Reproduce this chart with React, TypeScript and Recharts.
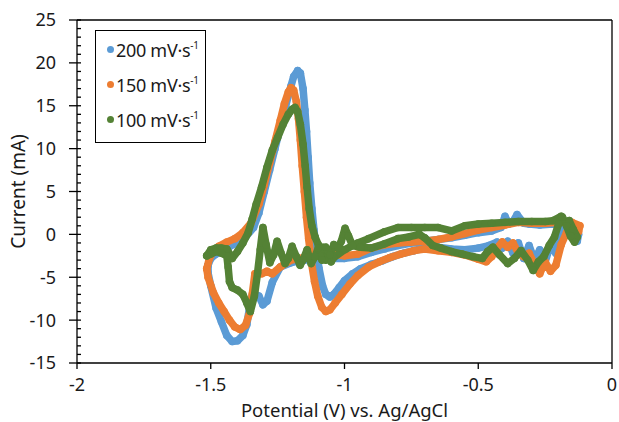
import React from 'react';
import { ScatterChart, Scatter, XAxis, YAxis, ReferenceLine, Legend } from 'recharts';

// cyclic voltammograms, [potential (V), current (mA)] in sweep order
const cv200: [number, number][] = [
  [-1.51, -3.6], [-1.5, -2.8], [-1.48, -2.3], [-1.46, -1.8], [-1.43, -1.4], [-1.4, -1.0], [-1.37, -0.3],
  [-1.34, 0.8], [-1.32, 2.5], [-1.3, 5.0], [-1.28, 7.5], [-1.26, 10.0], [-1.24, 12.5], [-1.22, 15.0],
  [-1.2, 17.3], [-1.19, 18.4], [-1.175, 19.1], [-1.165, 18.8], [-1.155, 17.0], [-1.148, 14.5],
  [-1.142, 12.0], [-1.136, 9.0], [-1.13, 6.0], [-1.122, 3.0], [-1.114, 0.5], [-1.105, -2.0],
  [-1.095, -4.0], [-1.082, -6.0], [-1.07, -7.0], [-1.055, -7.3], [-1.04, -7.0], [-1.02, -6.2],
  [-1.0, -5.4], [-0.97, -4.6], [-0.94, -4.0], [-0.9, -3.5], [-0.86, -3.1], [-0.82, -2.6], [-0.78, -2.2],
  [-0.74, -1.9], [-0.7, -1.6], [-0.65, -1.5], [-0.6, -1.7], [-0.55, -1.8], [-0.5, -1.6], [-0.46, -1.3],
  [-0.43, -0.9], [-0.41, -1.6], [-0.39, -0.8], [-0.37, -2.2], [-0.35, -1.0], [-0.33, -2.8], [-0.31, -1.3],
  [-0.29, -3.0], [-0.27, -1.8], [-0.25, -3.2], [-0.23, -1.2], [-0.21, -2.2], [-0.19, 0.3], [-0.17, 0.8],
  [-0.15, -0.2], [-0.13, -0.8],
  [-0.125, 0.0], [-0.14, 0.8], [-0.18, 1.1], [-0.22, 1.2], [-0.27, 1.1], [-0.31, 1.2], [-0.33, 1.3],
  [-0.355, 2.3], [-0.37, 1.5], [-0.385, 1.2], [-0.4, 2.1], [-0.415, 0.8], [-0.45, 0.4], [-0.5, 0.2],
  [-0.55, -0.1], [-0.6, -0.4], [-0.65, -0.6], [-0.7, -0.8], [-0.75, -1.0], [-0.8, -1.3], [-0.85, -1.7],
  [-0.9, -2.1], [-0.95, -2.6], [-1.0, -2.8], [-1.05, -2.8], [-1.1, -2.9], [-1.15, -3.0], [-1.2, -3.3],
  [-1.24, -3.8], [-1.27, -5.6], [-1.29, -7.8], [-1.305, -8.2], [-1.32, -7.2], [-1.342, -6.8],
  [-1.355, -8.5], [-1.365, -10.5], [-1.38, -11.8], [-1.4, -12.4], [-1.42, -12.5], [-1.44, -11.8],
  [-1.46, -10.2], [-1.48, -8.6], [-1.5, -6.0], [-1.51, -4.5], [-1.51, -3.6],
];

const cv150: [number, number][] = [
  [-1.515, -4.0], [-1.505, -2.8], [-1.49, -1.9], [-1.47, -1.4], [-1.44, -0.9], [-1.41, -0.5],
  [-1.38, 0.2], [-1.35, 1.3], [-1.32, 3.5], [-1.3, 5.8], [-1.28, 8.3], [-1.26, 10.8], [-1.24, 13.3],
  [-1.225, 15.2], [-1.21, 16.6], [-1.2, 17.1], [-1.19, 16.8], [-1.18, 15.5], [-1.172, 13.5],
  [-1.165, 11.0], [-1.158, 8.0], [-1.15, 5.0], [-1.142, 2.0], [-1.134, -0.5], [-1.125, -3.0],
  [-1.112, -5.5], [-1.1, -7.2], [-1.085, -8.5], [-1.07, -9.0], [-1.055, -8.8], [-1.035, -8.0],
  [-1.01, -7.0], [-0.98, -5.8], [-0.95, -4.8], [-0.91, -3.8], [-0.87, -3.2], [-0.83, -2.7],
  [-0.79, -2.3], [-0.74, -1.9], [-0.7, -1.7], [-0.65, -1.9], [-0.6, -2.1], [-0.55, -2.4], [-0.5, -2.9],
  [-0.47, -3.2], [-0.45, -2.6], [-0.43, -1.6], [-0.41, -0.9], [-0.39, -1.5], [-0.37, -1.0],
  [-0.35, -2.2], [-0.33, -2.6], [-0.31, -2.2], [-0.29, -3.5], [-0.27, -4.6], [-0.25, -3.2],
  [-0.23, -4.3], [-0.21, -3.6], [-0.19, -1.2], [-0.17, 0.2], [-0.15, 0.8], [-0.125, 0.3],
  [-0.12, 1.0], [-0.15, 1.4], [-0.2, 1.4], [-0.25, 1.3], [-0.3, 1.3], [-0.35, 1.4], [-0.4, 1.1],
  [-0.45, 0.8], [-0.5, 0.5], [-0.55, 0.1], [-0.6, -0.3], [-0.65, -0.6], [-0.7, -0.8], [-0.75, -0.9],
  [-0.8, -1.0], [-0.85, -1.2], [-0.9, -1.6], [-0.95, -2.3], [-1.0, -2.5], [-1.05, -2.3], [-1.1, -2.5],
  [-1.15, -2.7], [-1.2, -3.0], [-1.24, -3.8], [-1.27, -4.6], [-1.29, -4.3], [-1.31, -4.6],
  [-1.335, -4.6], [-1.345, -7.0], [-1.355, -9.2], [-1.37, -10.6], [-1.39, -11.1], [-1.41, -10.8],
  [-1.43, -10.0], [-1.45, -9.0], [-1.47, -8.0], [-1.49, -6.8], [-1.51, -5.0], [-1.515, -4.0],
];

const cv100: [number, number][] = [
  [-1.515, -2.5], [-1.5, -1.8], [-1.48, -1.6], [-1.46, -1.6], [-1.44, -1.7], [-1.42, -2.8], [-1.4, -2.0],
  [-1.38, -1.0], [-1.36, 0.2], [-1.345, 1.8], [-1.33, 3.5], [-1.31, 5.5], [-1.29, 7.8], [-1.27, 9.8],
  [-1.25, 11.3], [-1.23, 12.8], [-1.21, 14.0], [-1.195, 14.6], [-1.185, 14.8], [-1.175, 14.3],
  [-1.165, 12.8], [-1.155, 10.5], [-1.147, 8.0], [-1.14, 5.5], [-1.132, 3.0], [-1.122, 1.0],
  [-1.11, -0.3], [-1.098, -1.2], [-1.09, -2.5], [-1.08, -1.5], [-1.07, -3.0], [-1.06, -2.0],
  [-1.05, -3.2], [-1.04, -2.7], [-1.0, -1.8], [-0.95, -1.0], [-0.91, -0.5], [-0.85, 0.3], [-0.8, 0.8],
  [-0.75, 0.8], [-0.7, 0.8], [-0.65, 0.8], [-0.6, 0.4], [-0.55, 1.0], [-0.5, 1.2], [-0.45, 1.3],
  [-0.4, 1.4], [-0.35, 1.5], [-0.3, 1.5], [-0.25, 1.5], [-0.22, 1.6], [-0.19, 2.1], [-0.175, 1.4],
  [-0.16, 1.6], [-0.145, 0.6], [-0.13, -0.3],
  [-0.14, -0.9], [-0.155, -0.2], [-0.17, 1.0], [-0.185, 2.0], [-0.2, 1.2], [-0.215, -0.3],
  [-0.235, -1.3], [-0.255, -2.6], [-0.275, -3.2], [-0.295, -4.2], [-0.315, -3.0], [-0.34, -1.9],
  [-0.365, -2.8], [-0.39, -3.4], [-0.42, -2.4], [-0.445, -1.5], [-0.465, -2.0], [-0.485, -2.8],
  [-0.52, -2.6], [-0.56, -2.3], [-0.6, -2.0], [-0.64, -1.6], [-0.67, -1.3], [-0.7, -0.4], [-0.72, 0.0],
  [-0.76, -0.3], [-0.8, -0.5], [-0.85, -1.1], [-0.9, -1.6], [-0.94, -1.5], [-0.97, -1.3],
  [-0.985, -0.2], [-0.998, 0.7], [-1.012, -0.8], [-1.024, -1.6], [-1.04, -1.2], [-1.054, -2.4],
  [-1.07, -1.5], [-1.084, -3.0], [-1.098, -1.6], [-1.11, -2.6], [-1.125, -3.4], [-1.14, -1.8],
  [-1.155, -3.0], [-1.166, -3.6], [-1.18, -2.6], [-1.196, -1.4], [-1.21, -2.8], [-1.222, -3.4],
  [-1.237, -2.2], [-1.252, -0.8], [-1.265, -2.4], [-1.279, -3.3], [-1.293, -1.2], [-1.305, 0.8],
  [-1.315, -1.8], [-1.325, -4.5], [-1.337, -7.2], [-1.352, -9.0], [-1.365, -8.0], [-1.38, -7.0],
  [-1.4, -6.5], [-1.42, -6.2], [-1.43, -5.5], [-1.435, -3.8], [-1.44, -2.5], [-1.46, -2.2],
  [-1.48, -2.0], [-1.5, -2.3], [-1.515, -2.5],
];

const seriesNames = ['200 mV·s', '150 mV·s', '100 mV·s'];
const seriesColors = ['#5B9BD5', '#ED7D31', '#548235'];
const seriesData = [cv200, cv150, cv100];

const xTicks = [-2, -1.5, -1, -0.5, 0];
const yTicks = [-15, -10, -5, 0, 5, 10, 15, 20, 25];
const xMinorTicks = [-2, -1.9, -1.8, -1.7, -1.6, -1.5, -1.4, -1.3, -1.2, -1.1, -1, -0.9, -0.8, -0.7, -0.6, -0.5, -0.4, -0.3, -0.2, -0.1, 0];
const yMinorTicks = Array.from({ length: 41 }, (_, k) => k - 15);

const textColor = '#1a1a1a';
const axisColor = '#000';

const renderLegend = () => (
  <div
    style={{
      width: 111,
      height: 113,
      boxSizing: 'border-box',
      border: '1.5px solid #000',
      background: '#fff',
      paddingTop: 1,
      paddingLeft: 11,
    }}
  >
    {seriesNames.map((name, k) => (
      <div key={name} style={{ display: 'flex', alignItems: 'center', height: 35, fontSize: 18, color: textColor, whiteSpace: 'nowrap' }}>
        <span style={{ display: 'inline-block', width: 7, height: 7, borderRadius: '50%', background: seriesColors[k], marginRight: 2 }} />
        <span style={{ letterSpacing: -0.3 }}>
          {name}
          <span style={{ fontSize: 10, position: 'relative', top: -8 }}>-1</span>
        </span>
      </div>
    ))}
  </div>
);

export default function App() {
  return (
    <div style={{ position: 'absolute', left: 0, top: 0, fontFamily: "'Noto Sans', sans-serif" }}>
      <ScatterChart width={619} height={422} margin={{ top: 20, right: 7, bottom: 0, left: 0 }}>
        <XAxis
          type="number"
          dataKey="v"
          domain={[-2, 0]}
          ticks={xTicks}
          interval={0}
          allowDataOverflow
          height={59}
          stroke={axisColor}
          strokeWidth={1.3}
          tickSize={6}
          tickMargin={9}
          tick={{ fill: textColor, fontSize: 18 }}
          label={{ value: 'Potential (V) vs. Ag/AgCl', position: 'insideBottom', offset: 5, style: { fontSize: 18.5, fill: textColor } }}
        />
        <XAxis
          xAxisId="minor"
          type="number"
          domain={[-2, 0]}
          ticks={xMinorTicks}
          interval={0}
          allowDataOverflow
          mirror
          axisLine={false}
          tickFormatter={() => ''}
          tickSize={5}
          stroke={axisColor}
          strokeWidth={1.3}
        />
        <YAxis
          type="number"
          dataKey="i"
          domain={[-15, 25]}
          ticks={yTicks}
          interval={0}
          allowDataOverflow
          width={77}
          stroke={axisColor}
          strokeWidth={1.3}
          tickSize={8}
          tickMargin={13}
          tick={{ fill: textColor, fontSize: 18 }}
          label={{ value: 'Current (mA)', angle: -90, position: 'insideLeft', offset: 18, style: { textAnchor: 'middle', fontSize: 19, fill: textColor } }}
        />
        <YAxis
          yAxisId="minor"
          type="number"
          domain={[-15, 25]}
          ticks={yMinorTicks}
          interval={0}
          allowDataOverflow
          mirror
          axisLine={false}
          tickFormatter={() => ''}
          tickSize={4}
          stroke={axisColor}
          strokeWidth={1.3}
        />
        <ReferenceLine y={25} stroke={axisColor} strokeWidth={1.3} />
        <ReferenceLine x={0} stroke={axisColor} strokeWidth={1.3} />
        {seriesData.map((pts, k) => (
          <Scatter
            key={seriesNames[k]}
            name={seriesNames[k]}
            data={pts.map(([v, i]) => ({ v, i }))}
            fill={seriesColors[k]}
            line={{ stroke: seriesColors[k], strokeWidth: 7.5, strokeLinejoin: 'round', strokeLinecap: 'round' }}
            shape={(p: any) => <circle cx={p.cx} cy={p.cy} r={3.8} fill={seriesColors[k]} />}
            isAnimationActive={false}
          />
        ))}
        <Legend
          layout="vertical"
          align="center"
          verticalAlign="middle"
          wrapperStyle={{ left: 95, top: 30, width: 111, height: 113 }}
          content={renderLegend}
        />
      </ScatterChart>
    </div>
  );
}
